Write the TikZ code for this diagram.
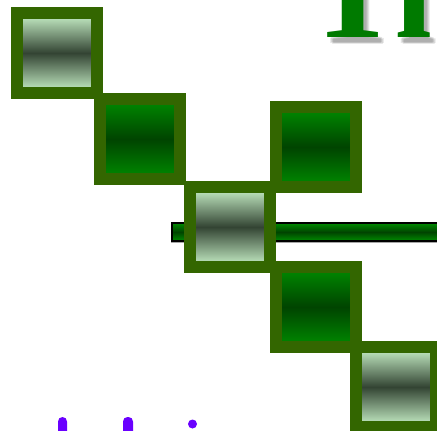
\documentclass[tikz,border=0pt]{standalone}
\usepackage{fontspec}
\setmainfont{Liberation Serif}
\definecolor{border}{HTML}{336600}
\definecolor{lighttop}{HTML}{CCF5CC}
\definecolor{lightmid}{HTML}{334433}
\definecolor{darktop}{HTML}{008C00}
\definecolor{darkmid}{HTML}{004400}
\definecolor{titlegreen}{HTML}{007A00}
\definecolor{purp}{HTML}{6A00FF}
\tikzset{
  boxbase/.style={draw=border, line width=12pt, minimum size=80pt, inner sep=0pt, outer sep=0pt},
  lightbox/.style={boxbase, top color=lighttop, bottom color=lighttop, middle color=lightmid},
  darkbox/.style={boxbase, top color=darktop, bottom color=darktop, middle color=darkmid},
  titletext/.style={font=\bfseries\fontsize{140}{140}\selectfont, anchor=base west, inner sep=0pt},
  shadowtext/.style={titletext, text=black, opacity=0.09},
}
\newcommand{\titlestr}{T\kern-5pt h}
\begin{document}
\begin{tikzpicture}[x=1pt,y=-1pt]
\useasboundingbox (0,0) rectangle (437,431);
\begin{scope}
\clip (0,0) rectangle (437,431);
% title with soft shadow
\node[shadowtext] (ts1) at (310,42) {\titlestr};
\node[shadowtext] (ts2) at (312,43) {\titlestr};
\node[shadowtext] (ts3) at (311,44) {\titlestr};
\node[shadowtext] (ts4) at (309,43) {\titlestr};
\node[titletext, text=titlegreen] (title) at (306,37) {\titlestr};
% bar
\coordinate (barL) at (172,223);
\coordinate (barR) at (445,241);
\draw[black!35, line width=3pt] (barL) rectangle (barR);
\shade[top color=darktop, bottom color=darktop, middle color=darkmid, draw=black, line width=1.5pt] (barL) rectangle (barR);
% boxes
\node[lightbox] (b1) at (57,53) {};
\node[darkbox]  (b2) at (140,139) {};
\node[darkbox]  (b4) at (316,147) {};
\node[lightbox] (b3) at (230,227) {};
\node[darkbox]  (b5) at (316,307) {};
\node[lightbox] (b6) at (396,387) {};
% purple marks at bottom
\fill[purp, rounded corners=4.5pt] (58,417) rectangle (67,440);
\fill[purp, rounded corners=4.5pt] (123,417) rectangle (133,440);
\fill[purp] (192.5,424) circle (4.5);
\end{scope}
\end{tikzpicture}
\end{document}
